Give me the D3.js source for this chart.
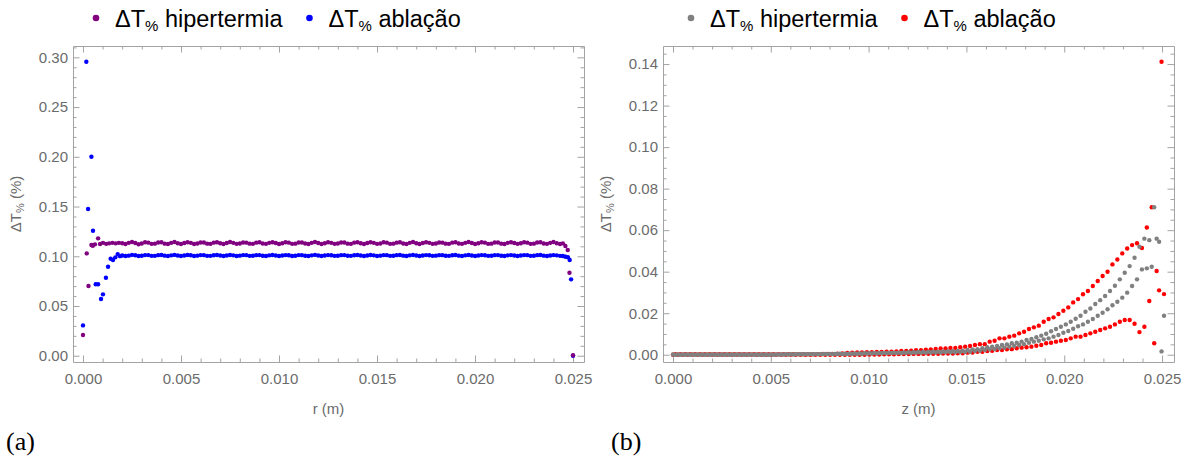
<!DOCTYPE html>
<html>
<head>
<meta charset="utf-8">
<script src="https://cdn.jsdelivr.net/npm/d3@7"></script>
<style>
  body { margin: 0; background: #fff; }
  svg { display: block; font-family: "Liberation Sans", Arial, sans-serif; }
</style>
</head>
<body>
<svg id="chart"></svg>
<script>
// ---------- Data ----------
const seriesNames = ["hipertermia", "ablação"];
const xTicks = [0, 0.005, 0.01, 0.015, 0.02, 0.025];
const rValueTicks = [0, 0.05, 0.1, 0.15, 0.2, 0.25, 0.3];
const zValueTicks = [0, 0.02, 0.04, 0.06, 0.08, 0.1, 0.12, 0.14];

// (a) radial profile: irregular nodes near r = 0, even grid afterwards
const rStep = 0.0001667;
const rPlateauStart = 0.002;

const hiperRHead = [0, 0.00019, 0.00028, 0.00043, 0.0005, 0.00061, 0.00077, 0.00087, 0.00102, 0.00118, 0.00133, 0.0015, 0.00167, 0.00183];
const hiperRHeadVal = [0.0208, 0.1029, 0.0701, 0.1113, 0.1106, 0.112, 0.118, 0.1123, 0.1135, 0.1125, 0.113, 0.1135, 0.113, 0.1135];
const hiperRPlateau = [
  0.1131, 0.1123, 0.1135, 0.1143, 0.1133, 0.1121, 0.1129, 0.1141, 0.1137, 0.1125, 0.1127, 0.1139, 0.1141, 0.1127, 0.1123,
  0.1135, 0.1143, 0.1131, 0.1123, 0.1133, 0.1141, 0.1135, 0.1123, 0.1129, 0.1139, 0.1139, 0.1127, 0.1125, 0.1137, 0.1141,
  0.1131, 0.1123, 0.1133, 0.1143, 0.1135, 0.1125, 0.1129, 0.1139, 0.1137, 0.1127, 0.1125, 0.1137, 0.1141, 0.1129, 0.1125,
  0.1135, 0.1141, 0.1133, 0.1123, 0.1131, 0.1141, 0.1137, 0.1125, 0.1127, 0.1139, 0.1139, 0.1129, 0.1123, 0.1135, 0.1143,
  0.1133, 0.1123, 0.1131, 0.1141, 0.1135, 0.1125, 0.1129, 0.1139, 0.1139, 0.1127, 0.1125, 0.1137, 0.1141, 0.1131, 0.1123,
  0.1133, 0.1141, 0.1135, 0.1125, 0.1129, 0.1141, 0.1137, 0.1125, 0.1127, 0.1137, 0.1141, 0.1129, 0.1123, 0.1135, 0.1143,
  0.1131, 0.1123, 0.1133, 0.1141, 0.1135, 0.1125, 0.1129, 0.1139, 0.1137, 0.1127, 0.1125, 0.1137, 0.1141, 0.1129, 0.1125,
  0.1135, 0.1143, 0.1133, 0.1123, 0.1131, 0.1141, 0.1137, 0.1125, 0.1127, 0.1139, 0.1139, 0.1127, 0.1123, 0.1135, 0.1141,
  0.1133, 0.1125, 0.1131, 0.1141, 0.1137, 0.1125, 0.1127, 0.1139, 0.1141, 0.1129, 0.1125, 0.1135, 0.1143, 0.1131, 0.1123
];
const hiperRTail = [0.02448, 0.02461, 0.02473, 0.02482, 0.025];
const hiperRTailVal = [0.113, 0.1103, 0.1063, 0.0835, 0.0005];

const ablRHead = [0, 0.00017, 0.00026, 0.00043, 0.00051, 0.00065, 0.00077, 0.00092, 0.00102, 0.00117, 0.00128, 0.00141, 0.00153, 0.00165, 0.00177, 0.00189];
const ablRHeadVal = [0.0305, 0.2956, 0.1475, 0.2001, 0.1257, 0.0718, 0.0718, 0.057, 0.0617, 0.0784, 0.0895, 0.0975, 0.0962, 0.0989, 0.1022, 0.1001];
const ablRPlateau = [
  0.1008, 0.1002, 0.1006, 0.1014, 0.101, 0.1003, 0.1005, 0.1012, 0.1012, 0.1004, 0.1004, 0.1011, 0.1013, 0.1006, 0.1003,
  0.1009, 0.1014, 0.1008, 0.1002, 0.1007, 0.1013, 0.101, 0.1003, 0.1006, 0.1012, 0.1011, 0.1004, 0.1004, 0.101, 0.1013,
  0.1007, 0.1002, 0.1008, 0.1013, 0.1009, 0.1003, 0.1006, 0.1012, 0.1011, 0.1004, 0.1005, 0.1011, 0.1012, 0.1005, 0.1003,
  0.1009, 0.1013, 0.1008, 0.1003, 0.1007, 0.1012, 0.101, 0.1003, 0.1005, 0.1012, 0.1011, 0.1005, 0.1003, 0.1009, 0.1014,
  0.1008, 0.1003, 0.1007, 0.1012, 0.101, 0.1004, 0.1005, 0.1011, 0.1012, 0.1005, 0.1004, 0.101, 0.1013, 0.1007, 0.1002,
  0.1008, 0.1013, 0.1009, 0.1003, 0.1006, 0.1012, 0.1011, 0.1004, 0.1005, 0.1011, 0.1013, 0.1006, 0.1003, 0.1009, 0.1013,
  0.1007, 0.1003, 0.1008, 0.1012, 0.101, 0.1004, 0.1006, 0.1011, 0.1011, 0.1005, 0.1004, 0.101, 0.1013, 0.1006, 0.1003,
  0.1009, 0.1013, 0.1008, 0.1003, 0.1007, 0.1012, 0.101, 0.1004, 0.1005, 0.1011, 0.1012, 0.1005, 0.1003, 0.1009, 0.1012,
  0.1008, 0.1003, 0.1007, 0.1012, 0.1011, 0.1004, 0.1005, 0.1011, 0.1013, 0.1006, 0.1003, 0.1008, 0.1012, 0.1009, 0.1004
];
const ablRTail = [0.02448, 0.02461, 0.02474, 0.02483, 0.0249, 0.025];
const ablRTailVal = [0.1003, 0.0995, 0.099, 0.0962, 0.0768, 0];

// (b) axial profiles: two radial lines per case, on a z grid of zStep
const zStep = 0.000251;
const hiperZUpperStart = 0;
const hiperZUpper = [
  0.0001, 0.0001, 0.0001, 0.0001, 0.0001, 0.0001, 0.0001, 0.0001, 0.0001, 0.0001,
  0.0001, 0.0001, 0.0001, 0.0001, 0.0001, 0.0001, 0.0001, 0.0001, 0.0001, 0.0001,
  0.0001, 0.0001, 0.0001, 0.0002, 0.0002, 0.0002, 0.0002, 0.0003, 0.0003, 0.0003,
  0.0003, 0.0004, 0.0004, 0.0004, 0.0005, 0.0005, 0.0005, 0.0006, 0.0006, 0.0007,
  0.0007, 0.0008, 0.0008, 0.0009, 0.0009, 0.001, 0.001, 0.0011, 0.0012, 0.0012,
  0.0013, 0.0013, 0.0014, 0.0015, 0.0015, 0.0016, 0.0017, 0.0017, 0.0018,
  0.0019, 0.0023, 0.0026, 0.0027, 0.0031, 0.0036, 0.0039, 0.0042, 0.0047, 0.005, 0.0055,
  0.0058, 0.0063, 0.0071, 0.0076, 0.0084, 0.0092, 0.0101, 0.0113, 0.0124, 0.0135,
  0.0146, 0.0159, 0.0173, 0.0188, 0.0207, 0.0223, 0.0244, 0.0263, 0.0283, 0.0307,
  0.0332, 0.0363, 0.0395, 0.0427, 0.0467, 0.052, 0.0559, 0.0552, 0.071, 0.0544, 0.0188
];
const hiperZLowerStart = 0.000125;
const hiperZLower = [
  0, 0, 0, 0, 0, 0, 0, 0, 0, 0,
  0, 0, 0, 0, 0, 0, 0, 0, 0, 0,
  0, 0.0001, 0.0001, 0.0001, 0.0001, 0.0002, 0.0002, 0.0002, 0.0002, 0.0003,
  0.0003, 0.0003, 0.0003, 0.0004, 0.0004, 0.0004, 0.0005, 0.0005, 0.0005, 0.0006,
  0.0006, 0.0006, 0.0007, 0.0007, 0.0008, 0.0008, 0.0008, 0.0009, 0.0009, 0.001,
  0.001, 0.001, 0.0011, 0.0011, 0.0011, 0.0012, 0.0012, 0.0012, 0.0013,
  0.0013, 0.0014, 0.0018, 0.0019, 0.0023, 0.0026, 0.0027, 0.0031, 0.0034, 0.0039, 0.0042,
  0.0047, 0.0051, 0.0058, 0.0063, 0.0067, 0.0074, 0.0079, 0.0087, 0.0095, 0.0106,
  0.0114, 0.0125, 0.0137, 0.0146, 0.0159, 0.0172, 0.0188, 0.0202, 0.0219, 0.0238,
  0.0255, 0.0275, 0.0299, 0.0331, 0.0363, 0.0411, 0.0416, 0.0424, 0.0559, 0.0016
];
const ablZUpperStart = 0.000125;
const ablZUpper = [
  0.0003, 0.0003, 0.0003, 0.0003, 0.0003, 0.0003, 0.0003, 0.0003, 0.0003, 0.0003,
  0.0003, 0.0003, 0.0003, 0.0003, 0.0003, 0.0003, 0.0003, 0.0003, 0.0003, 0.0003,
  0.0003, 0.0003, 0.0003, 0.0003, 0.0003, 0.0003, 0.0003, 0.0003, 0.0003, 0.0003,
  0.0004, 0.0004, 0.0004, 0.0005, 0.0006,
  0.0009, 0.001, 0.0011, 0.0011, 0.0012, 0.0012, 0.0013, 0.0013, 0.0015, 0.0015,
  0.0016, 0.0018, 0.0018, 0.002, 0.0022, 0.0022, 0.0024, 0.0026, 0.0028, 0.003,
  0.003, 0.0033, 0.0033, 0.0036, 0.0039, 0.0042, 0.0047, 0.0051, 0.0051, 0.0063,
  0.0067, 0.0079, 0.0079, 0.0087, 0.0092, 0.0103, 0.0111, 0.0124, 0.0132, 0.014,
  0.0159, 0.0172, 0.018, 0.0196, 0.0212, 0.0228, 0.0252, 0.0268, 0.0291, 0.0307,
  0.0331, 0.0355, 0.0379, 0.04, 0.0435, 0.0459, 0.0488, 0.0512, 0.0528, 0.0537,
  0.0514, 0.0613, 0.071, 0.0403, 0.1411
];
const ablZLowerStart = 0;
const ablZLower = [
  0, 0, 0, 0, 0, 0, 0, 0, 0, 0,
  0, 0, 0, 0, 0, 0, 0, 0, 0, 0,
  0, 0, 0, 0, 0, 0, 0, 0, 0, 0,
  0, 0, 0, 0, 0, 0, 0, 0, 0, 0,
  0.0001, 0.0001, 0.0001, 0.0002, 0.0002, 0.0002, 0.0003, 0.0003, 0.0003, 0.0004,
  0.0004, 0.0004, 0.0005, 0.0005, 0.0005, 0.0006, 0.0006, 0.0006, 0.0007,
  0.0007, 0.001, 0.0011, 0.0014, 0.0014, 0.0018, 0.0019, 0.0023, 0.0023, 0.0026, 0.0027,
  0.0031, 0.0034, 0.0036, 0.0039, 0.0043, 0.0047, 0.0055, 0.0058, 0.0063, 0.0067,
  0.0071, 0.0079, 0.0087, 0.0087, 0.0095, 0.0103, 0.0111, 0.0119, 0.0127, 0.0135,
  0.0146, 0.0159, 0.0167, 0.0167, 0.0149, 0.0109, 0.0135, 0.0259, 0.0055, 0.031, 0.0292
];

// ---------- Build point lists ----------
const pairs = (xs, ys) => xs.map((x, i) => ({ x, y: ys[i] }));
const onGrid = (start, step, ys) => ys.map((y, i) => ({ x: start + i * step, y }));

const hiperR = [
  ...pairs(hiperRHead, hiperRHeadVal),
  ...onGrid(rPlateauStart, rStep, hiperRPlateau),
  ...pairs(hiperRTail, hiperRTailVal),
];
const ablR = [
  ...pairs(ablRHead, ablRHeadVal),
  ...onGrid(rPlateauStart, rStep, ablRPlateau),
  ...pairs(ablRTail, ablRTailVal),
];
const hiperZ = [
  ...onGrid(hiperZUpperStart, zStep, hiperZUpper),
  ...onGrid(hiperZLowerStart, zStep, hiperZLower),
];
const ablZ = [
  ...onGrid(ablZUpperStart, zStep, ablZUpper),
  ...onGrid(ablZLowerStart, zStep, ablZLower),
];

// ---------- SVG ----------
const width = 1196;
const height = 461;
const svg = d3.select("#chart").attr("width", width).attr("height", height);

const frameColor = "#a3a3a3";
const labelColor = "#6b6b6b";

function legendItem(g, x, color, name) {
  g.append("circle").attr("cx", x).attr("cy", 18).attr("r", 3.3).attr("fill", color);
  const t = g.append("text")
    .attr("x", x + 19)
    .attr("y", 26.5)
    .attr("font-size", 23.5)
    .attr("fill", "#000");
  t.append("tspan").text("ΔT");
  t.append("tspan").attr("font-size", 15).attr("dy", 4).text("%");
  t.append("tspan").attr("dy", -4).text(" " + name);
  return x + 19 + t.node().getComputedTextLength();
}

function drawPanel(p) {
  const g = svg.append("g");

  const x = d3.scaleLinear().domain(p.xDomain).range([p.left, p.right]);
  const y = d3.scaleLinear().domain(p.yDomain).range([p.bottom, p.top]);

  const xMinor = d3.range(0, 0.0255, 0.001).filter((d) => !xTicks.some((t) => Math.abs(t - d) < 1e-9));
  const yMinor = d3.range(0, p.yDomain[1], p.yMinorStep).filter((d) => !p.yTicks.some((t) => Math.abs(t - d) < 1e-9));

  // Frame with inward ticks on all four sides
  const sides = [
    { axis: d3.axisBottom(x), t: `translate(0,${p.bottom})`, major: xTicks, minor: xMinor, fmt: d3.format(".3f") },
    { axis: d3.axisTop(x), t: `translate(0,${p.top})`, major: xTicks, minor: xMinor, fmt: () => "" },
    { axis: d3.axisLeft(y), t: `translate(${p.left},0)`, major: p.yTicks, minor: yMinor, fmt: d3.format(".2f") },
    { axis: d3.axisRight(y), t: `translate(${p.right},0)`, major: p.yTicks, minor: yMinor, fmt: () => "" },
  ];
  sides.forEach((s) => {
    g.append("g")
      .attr("transform", s.t)
      .call(s.axis.tickValues(s.minor).tickSizeInner(-3.5).tickSizeOuter(0).tickFormat(() => ""))
      .call((a) => a.select(".domain").remove());
    g.append("g")
      .attr("transform", s.t)
      .call(s.axis.tickValues(s.major).tickSizeInner(-6.5).tickSizeOuter(0).tickPadding(s === sides[0] ? 11 : 5).tickFormat(s.fmt));
  });
  g.selectAll(".domain, .tick line").attr("stroke", frameColor).attr("stroke-width", 1);
  g.selectAll(".tick text")
    .attr("fill", labelColor)
    .attr("font-size", 15)
    .attr("font-family", "Liberation Sans, Arial, sans-serif");

  // Axis titles
  g.append("text")
    .attr("x", (p.left + p.right) / 2)
    .attr("y", 414)
    .attr("text-anchor", "middle")
    .attr("font-size", 15)
    .attr("fill", labelColor)
    .text(p.xTitle);

  const yt = g.append("text")
    .attr("transform", `translate(${p.left - 52},${(p.top + p.bottom) / 2}) rotate(-90)`)
    .attr("text-anchor", "middle")
    .attr("font-size", 15)
    .attr("fill", labelColor);
  yt.append("tspan").text("ΔT");
  yt.append("tspan").attr("font-size", 11).attr("dy", 3).text("%");
  yt.append("tspan").attr("dy", -3).text(" (%)");

  // Points: second series underneath, first on top
  [p.series[1], p.series[0]].forEach((s) => {
    g.append("g")
      .selectAll("circle")
      .data(s.points)
      .enter()
      .append("circle")
      .attr("cx", (d) => x(d.x))
      .attr("cy", (d) => y(d.y))
      .attr("r", 2.2)
      .attr("fill", s.color);
  });

  // Legend
  const lg = g.append("g");
  const end = legendItem(lg, p.legendX, p.series[0].color, seriesNames[0]);
  legendItem(lg, end + 27, p.series[1].color, seriesNames[1]);

  // Panel letter
  g.append("text")
    .attr("x", p.letterX)
    .attr("y", 450)
    .attr("font-family", "Liberation Serif, DejaVu Serif, serif")
    .attr("font-size", 26)
    .attr("fill", "#000")
    .text(p.letter);
}

drawPanel({
  left: 73, right: 584, top: 46, bottom: 362,
  xDomain: [-0.00051, 0.02556],
  yDomain: [-0.0063, 0.3114],
  yTicks: rValueTicks,
  yMinorStep: 0.01,
  xTitle: "r (m)",
  series: [
    { color: "#800080", points: hiperR },
    { color: "#0000ff", points: ablR },
  ],
  legendX: 96,
  letter: "(a)",
  letterX: 6,
});

drawPanel({
  left: 663, right: 1174, top: 46, bottom: 362,
  xDomain: [-0.00051, 0.02561],
  yDomain: [-0.0035, 0.1487],
  yTicks: zValueTicks,
  yMinorStep: 0.005,
  xTitle: "z (m)",
  series: [
    { color: "#808080", points: hiperZ },
    { color: "#ff0000", points: ablZ },
  ],
  legendX: 691,
  letter: "(b)",
  letterX: 611,
});
</script>
</body>
</html>
